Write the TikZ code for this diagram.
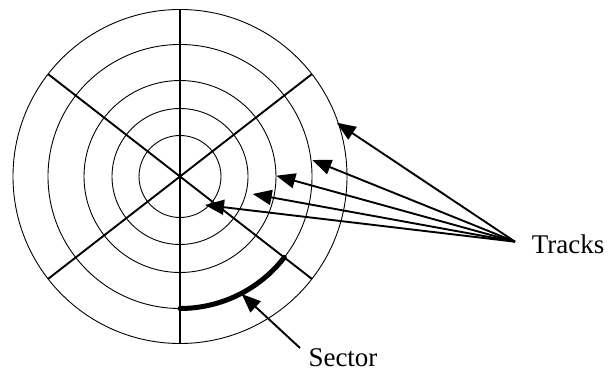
\documentclass[tikz,border=0pt]{standalone}
\usepackage{fontspec}
\setmainfont{Liberation Serif}
\usetikzlibrary{arrows.meta}
\begin{document}
\begin{tikzpicture}[x=1pt,y=1pt,
  ring/.style={line width=0.9pt},
  spoke/.style={line width=1.9pt},
  vspoke/.style={line width=1.1pt},
  pointer/.style={line width=1.9pt,-{Triangle[length=19pt,width=15pt]}},
  sectorarc/.style={line width=5pt,line cap=round},
  label/.style={inner sep=0pt,anchor=base west,font=\fontsize{27}{32}\selectfont}]
\useasboundingbox (0,0) rectangle (612,372);
\coordinate (c) at (180,195.5);
\foreach \r in {41,68,96,132,167} \draw[ring] (c) circle[radius=\r pt];
% spokes
\coordinate (d1a) at (48.1,297.9);
\coordinate (d1b) at (311.9,93.1);
\coordinate (d2a) at (311.9,297.9);
\coordinate (d2b) at (48.1,93.1);
\coordinate (vt) at (180,362.5);
\coordinate (vb) at (180,28.5);
\draw[spoke] (d1a) -- (d1b);
\draw[spoke] (d2a) -- (d2b);
\draw[vspoke] (vt) -- (vb);
% sector
\coordinate (sa) at (180,63.5);
\draw[sectorarc] (sa) arc[start angle=270,end angle=322.2,radius=132pt];
% labels
\node[label] (tracks) at (531.7,118) {Tracks};
\node[label] (sector) at (308.3,6) {Sector};
% track pointers
\coordinate (src) at (515,130.3);
\coordinate (t1) at (336.7,249.3);
\coordinate (t2) at (312.3,212);
\coordinate (t3) at (276.3,196.3);
\coordinate (t4) at (252.7,178);
\coordinate (t5) at (205,167);
\foreach \t in {t1,t2,t3,t4,t5} \draw[pointer] (src) -- (\t);
% sector pointer
\coordinate (stail) at (300,24);
\coordinate (stip) at (241.7,78);
\draw[pointer] (stail) -- (stip);
\end{tikzpicture}
\end{document}
